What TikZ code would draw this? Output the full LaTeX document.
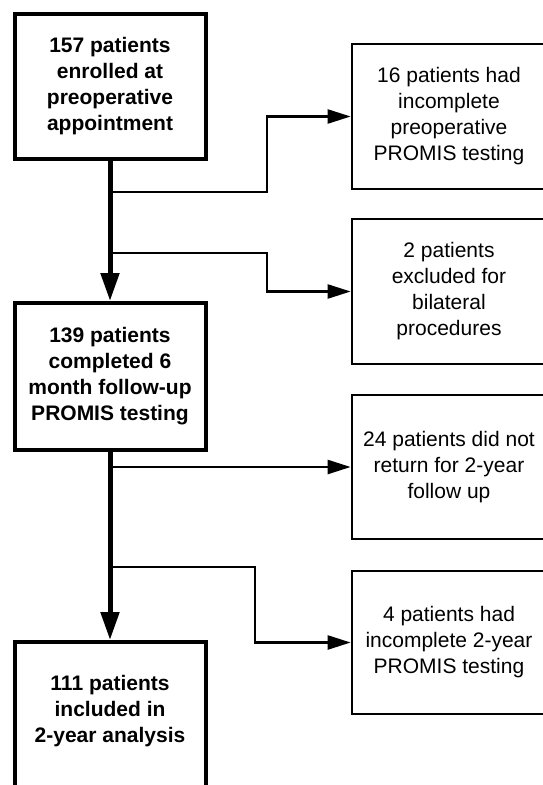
\documentclass[tikz,border=0pt]{standalone}
\usepackage{fontspec}
\setmainfont{Liberation Sans}
\usetikzlibrary{arrows.meta}
\tikzset{
  leftbox/.style={draw=black, line width=4pt, rectangle, inner sep=0pt,
    minimum width=191pt, align=center,
    font=\fontsize{21}{26}\selectfont\bfseries},
  rightbox/.style={draw=black, line width=2.7pt, rectangle, inner sep=0pt,
    minimum width=194pt, align=center,
    font=\fontsize{21}{26}\selectfont},
  trunk/.style={line width=5pt, -{Triangle[length=28pt,width=18pt]}},
  branch/.style={line width=2.4pt, -{Triangle[length=23pt,width=14pt]}},
}
\begin{document}
\begin{tikzpicture}[x=1pt,y=-1pt]
\useasboundingbox (0,0) rectangle (543,785);
% left column
\node[leftbox, minimum height=145pt] (b1) at (110,86.5)
  {157 patients\\enrolled at\\preoperative\\appointment};
\node[leftbox, minimum height=147pt] (b2) at (110,376.5)
  {139 patients\\completed 6\\month follow-up\\PROMIS testing};
\node[leftbox, minimum height=150pt] (b3) at (110,717)
  {};
\node[font=\fontsize{21}{26}\selectfont\bfseries, align=center, inner sep=0pt] (t3) at (110,711)
  {111 patients\\included in\\2-year analysis};
% right column
\node[rightbox, minimum height=145pt] (r1) at (449,116.5)
  {16 patients had\\incomplete\\preoperative\\PROMIS testing};
\node[rightbox, minimum height=145pt] (r2) at (449,291.5)
  {2 patients\\excluded for\\bilateral\\procedures};
\node[rightbox, minimum height=144pt] (r3) at (449,467)
  {24 patients did not\\return for 2-year\\follow up};
\node[rightbox, minimum height=143pt] (r4) at (449,642.5)
  {4 patients had\\incomplete 2-year\\PROMIS testing};
% junctions
\coordinate (j1) at (110,192);
\coordinate (k1) at (267,192);
\coordinate (j2) at (110,253);
\coordinate (k2) at (267,253);
\coordinate (j3) at (110,467);
\coordinate (j4) at (110,567);
\coordinate (k4) at (255,567);
% branches
\draw[branch] (j1) -- (k1) |- (r1.west);
\draw[branch] (j2) -- (k2) |- (r2.west);
\draw[branch] (j3) -- (r3.west);
\draw[branch] (j4) -- (k4) |- (r4.west);
% trunks
\draw[trunk] (b1.south) -- (b2.north);
\draw[trunk] (b2.south) -- (b3.north);
\end{tikzpicture}
\end{document}
